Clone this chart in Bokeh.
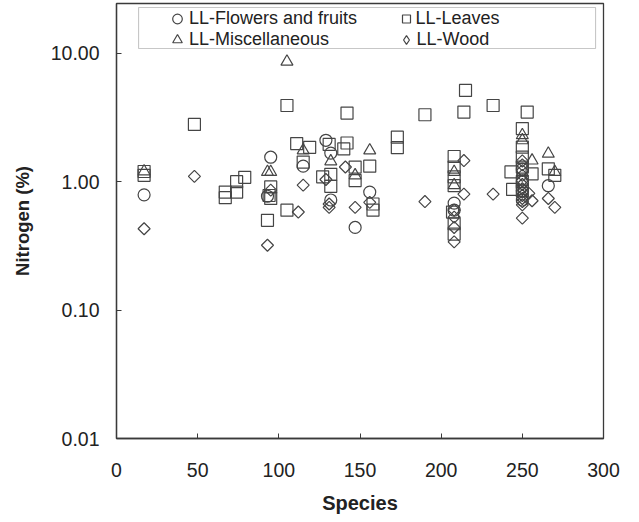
import math
from bokeh.plotting import figure
from bokeh.models import FixedTicker, Legend, LegendItem, BoxAnnotation
from bokeh.embed import file_html
from bokeh.resources import INLINE

# ---- data ----
flowers_x = [17, 93, 95, 115, 129, 132, 132, 147, 156, 208, 208, 250, 250, 250, 250, 266]
flowers_y = [0.79, 0.77, 1.55, 1.32, 2.10, 1.67, 0.72, 0.44, 0.83, 0.68, 0.60, 1.25, 1.00, 0.85, 0.72, 0.93]

leaves_x = [17, 17, 48, 67, 67, 74, 74, 79, 93, 94, 95, 95, 105, 105, 111, 115, 119, 127, 131, 132, 132,
            140, 142, 142, 147, 147, 156, 158, 158, 173, 173, 190, 207, 208, 208, 208, 208, 208, 208,
            214, 215, 232, 243, 244, 250, 250, 250, 250, 250, 250, 253, 256, 266, 270]
leaves_y = [1.20, 1.12, 2.79, 0.83, 0.75, 1.00, 0.83, 1.08, 0.50, 0.78, 0.91, 0.74, 3.92, 0.60, 1.98, 1.42,
            1.85, 1.09, 1.95, 1.14, 0.92, 1.80, 2.00, 3.42, 1.30, 1.02, 1.32, 0.67, 0.60, 2.22, 1.84, 3.32,
            0.58, 1.57, 1.30, 1.09, 0.93, 0.47, 0.39, 3.48, 5.13, 3.92, 1.19, 0.87, 2.59, 1.86, 1.55, 1.30,
            1.00, 0.85, 3.48, 1.15, 1.26, 1.12]

misc_x = [17, 93, 95, 105, 115, 132, 147, 156, 208, 208, 250, 250, 256, 266, 270]
misc_y = [1.20, 1.19, 1.19, 8.60, 1.75, 1.44, 1.12, 1.75, 1.19, 0.94, 2.30, 2.10, 1.46, 1.65, 1.19]

wood_x = [17, 48, 93, 95, 112, 115, 129, 131, 131, 141, 147, 156, 190, 208, 208, 208, 208, 214, 214, 232,
          250, 250, 250, 250, 250, 250, 250, 250, 250, 250, 250, 250, 250, 254, 256, 266, 270]
wood_y = [0.43, 1.10, 0.32, 0.86, 0.58, 0.94, 1.04, 0.67, 0.63, 1.30, 0.63, 0.69, 0.70, 0.60, 0.53, 0.44,
          0.34, 1.46, 0.80, 0.80, 1.45, 1.35, 1.22, 1.12, 1.02, 0.95, 0.88, 0.83, 0.78, 0.74, 0.70, 0.66,
          0.52, 0.81, 0.71, 0.74, 0.63]

x_ticks = [0, 50, 100, 150, 200, 250, 300]
y_ticks = [0.01, 0.1, 1, 10]
y_tick_labels = ["0.01", "0.10", "1.00", "10.00"]

series_names = ["LL-Flowers and fruits", "LL-Leaves", "LL-Miscellaneous", "LL-Wood"]

# ---- styling ----
MK = "#454545"
TXT = "#222222"
FONT = "Liberation Sans"

p = figure(width=639, height=522, x_range=(0, 300), y_range=(0.01, 24.4), y_axis_type="log",
           output_backend="svg", toolbar_location=None,
           min_border_left=116, min_border_right=36, min_border_top=3, min_border_bottom=84)

p.xgrid.visible = False
p.ygrid.visible = False
p.outline_line_color = "#3a3a3a"
p.outline_line_width = 1.3
p.background_fill_color = "white"
p.border_fill_color = "white"

common = dict(line_color=MK, line_width=1.2, fill_alpha=0)
r_fl = p.scatter(flowers_x, flowers_y, marker="circle", size=12, **common)
r_lv = p.scatter(leaves_x, leaves_y, marker="square", size=12, **common)
r_mi = p.scatter(misc_x, misc_y, marker="triangle", size=12, **common)
r_wd = p.scatter(wood_x, wood_y, marker="square", angle=math.pi / 4, size=8.5, **common)
# legend key for the wood series: legend keys are drawn unrotated, so use the diamond
# marker on the same data with size 0 (invisible in the plot, sized by the legend box)
r_wd_key = p.scatter(wood_x, wood_y, marker="diamond", size=0, **common)

# axes
p.xaxis.ticker = FixedTicker(ticks=x_ticks)
p.yaxis.ticker = FixedTicker(ticks=y_ticks)
p.yaxis.major_label_overrides = {t: l for t, l in zip(y_ticks, y_tick_labels)}
for ax in (p.xaxis[0], p.yaxis[0]):
    ax.axis_line_color = "#3a3a3a"
    ax.axis_line_width = 1.3
    ax.major_tick_line_color = "#3a3a3a"
    ax.major_tick_in = 5
    ax.major_tick_out = 0
    ax.minor_tick_in = 0
    ax.minor_tick_out = 0
    ax.major_label_text_font = FONT
    ax.major_label_text_font_size = "19.5px"
    ax.major_label_text_color = TXT
    ax.axis_label_text_font = FONT
    ax.axis_label_text_font_style = "bold"
    ax.axis_label_text_color = TXT

p.xaxis.axis_label = "Species"
p.yaxis.axis_label = "Nitrogen (%)"
p.xaxis.axis_label_text_font_size = "20px"
p.yaxis.axis_label_text_font_size = "18.5px"
p.xaxis.major_label_standoff = 24
p.xaxis.axis_label_standoff = 12
p.yaxis.major_label_standoff = 17
p.yaxis.axis_label_standoff = 15

# legend frame
box = BoxAnnotation(left=13.6, right=295.1, bottom=10.9, top=22.7, fill_alpha=0,
                    line_color="#444444", line_width=1.1)
p.add_layout(box)

def make_legend(name, renderer, gw, loc):
    lg = Legend(items=[LegendItem(label=name, renderers=[renderer])], location=loc,
                glyph_width=gw, glyph_height=25, label_height=25, label_standoff=0,
                padding=0, margin=0, spacing=0, border_line_alpha=0, background_fill_alpha=0,
                label_text_font=FONT, label_text_font_size="18px", label_text_color=TXT)
    p.add_layout(lg)

make_legend(series_names[0], r_fl, 24, (49, 407))
make_legend(series_names[2], r_mi, 24, (49, 386.5))
make_legend(series_names[1], r_lv, 20, (279.5, 407))
make_legend(series_names[3], r_wd_key, 22, (278.5, 386.5))

open("out.html", "w").write(file_html(p, INLINE))
